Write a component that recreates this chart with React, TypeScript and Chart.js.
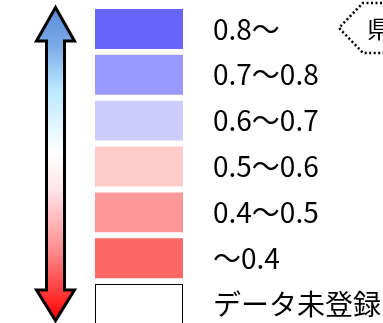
import React, { useEffect, useRef } from "react";
import { Chart, registerables } from "chart.js";

Chart.register(...registerables);

const categories: string[] = ["0.8～", "0.7～0.8", "0.6～0.7", "0.5～0.6", "0.4～0.5", "～0.4", "データ未登録"];
const swatchRanges: [number, number][] = [[0, 1], [0, 1], [0, 1], [0, 1], [0, 1], [0, 1], [0, 1]];
const swatchColors: string[] = ["#6666ff", "#9999ff", "#ccccff", "#ffcccc", "#ff9999", "#ff6666", "#ffffff"];
const swatchBorders: string[] = ["#6666ff", "#9999ff", "#ccccff", "#ffcccc", "#ff9999", "#ff6666", "#000000"];
const swatchBorderWidths: number[] = [0, 0, 0, 0, 0, 0, 1];
const badgeText = "県";

const FONT = "'Noto Sans CJK JP', 'Noto Sans', sans-serif";

const decorPlugin = {
  id: "decor",
  beforeDatasetsDraw(chart: any) {
    const { ctx, chartArea } = chart;
    const y = chart.scales.y;
    const cx = 55.5;
    const shaftHalf = 9;
    const headHalf = 19;
    const topTip = y.getPixelForValue(0) - 21.5;
    const topBase = y.getPixelForValue(0) + 12;
    const botTip = y.getPixelForValue(categories.length - 1) + 16.5;
    const botBase = y.getPixelForValue(categories.length - 1) - 14;

    ctx.save();
    ctx.beginPath();
    ctx.moveTo(cx, topTip);
    ctx.lineTo(cx + headHalf, topBase);
    ctx.lineTo(cx + shaftHalf, topBase);
    ctx.lineTo(cx + shaftHalf, botBase);
    ctx.lineTo(cx + headHalf, botBase);
    ctx.lineTo(cx, botTip);
    ctx.lineTo(cx - headHalf, botBase);
    ctx.lineTo(cx - shaftHalf, botBase);
    ctx.lineTo(cx - shaftHalf, topBase);
    ctx.lineTo(cx - headHalf, topBase);
    ctx.closePath();
    const g = ctx.createLinearGradient(0, topTip, 0, botTip);
    g.addColorStop(0, "#5a8ad6");
    g.addColorStop(0.12, "#7aaae6");
    g.addColorStop(0.26, "#b8e8ff");
    g.addColorStop(0.46, "#ffffff");
    g.addColorStop(0.58, "#ffe6ea");
    g.addColorStop(0.78, "#ff8a8a");
    g.addColorStop(1, "#ff0000");
    ctx.fillStyle = g;
    ctx.fill();
    ctx.lineWidth = 3;
    ctx.lineJoin = "miter";
    ctx.strokeStyle = "#000000";
    ctx.stroke();

    // category labels to the right of the swatches
    ctx.font = `28px ${FONT}`;
    ctx.fillStyle = "#000000";
    ctx.textBaseline = "middle";
    ctx.textAlign = "left";
    categories.forEach((label, i) => {
      ctx.fillText(label, chartArea.right + 30, y.getPixelForValue(i));
    });

    // dotted hexagon badge (clipped at right edge)
    const by = y.getPixelForValue(0) - 1;
    ctx.beginPath();
    ctx.moveTo(400, by - 25);
    ctx.lineTo(363, by - 25);
    ctx.lineTo(339, by);
    ctx.lineTo(363, by + 25);
    ctx.lineTo(400, by + 25);
    ctx.setLineDash([2, 2.5]);
    ctx.lineWidth = 2.5;
    ctx.lineCap = "butt";
    ctx.strokeStyle = "#000000";
    ctx.stroke();
    ctx.setLineDash([]);
    ctx.font = `24px ${FONT}`;
    ctx.fillText(badgeText, 367, by + 1);
    ctx.restore();
  },
};

export default function App() {
  const ref = useRef<HTMLCanvasElement | null>(null);
  useEffect(() => {
    document.body.style.margin = "0";
    document.body.style.overflow = "hidden";
    const canvas = ref.current;
    if (!canvas) return;
    const chart = new Chart(canvas, {
      type: "bar",
      data: {
        labels: categories,
        datasets: [
          {
            data: swatchRanges as any,
            backgroundColor: swatchColors,
            borderColor: swatchBorders,
            borderWidth: swatchBorderWidths,
            borderSkipped: false,
            barPercentage: 0.87,
            categoryPercentage: 1,
          },
        ],
      },
      options: {
        indexAxis: "y",
        animation: false,
        responsive: false,
        layout: { padding: { left: 95, right: 200, top: 6, bottom: 13 } },
        plugins: { legend: { display: false }, tooltip: { enabled: false } },
        scales: {
          x: { display: false, min: 0, max: 1 },
          y: { display: false },
        },
      },
      plugins: [decorPlugin],
    });
    return () => chart.destroy();
  }, []);
  return (
    <div style={{ width: 383, height: 340 }}>
      <canvas ref={ref} width={383} height={340} style={{ display: "block" }} />
    </div>
  );
}
